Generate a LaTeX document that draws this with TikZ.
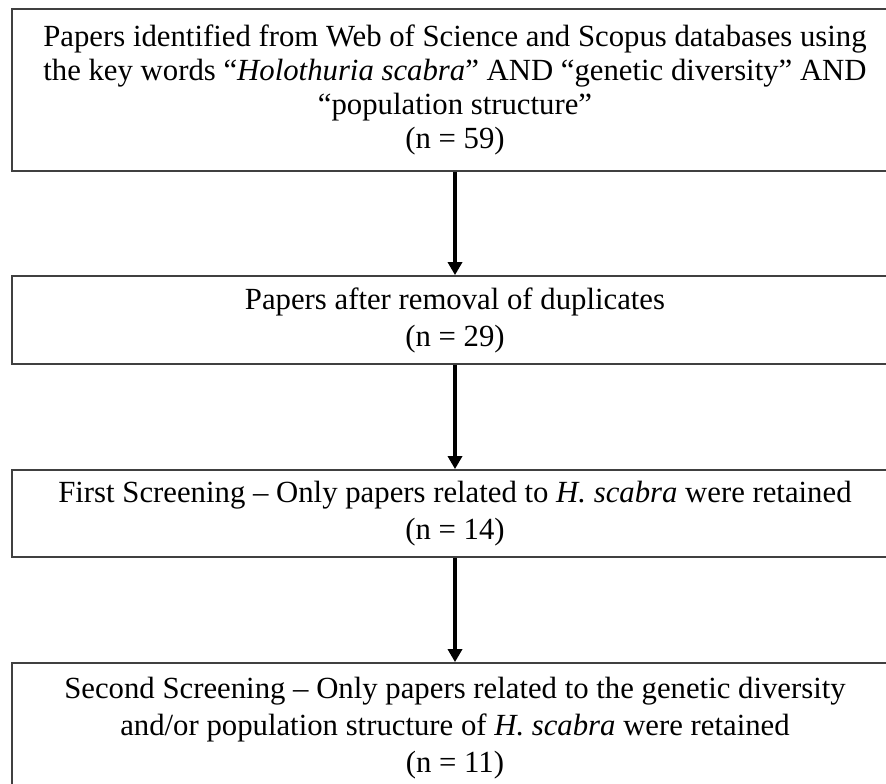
\documentclass[tikz,border=0pt]{standalone}
\usepackage{fontspec}
\setmainfont{Liberation Serif}
\usepackage{tikz}
\usetikzlibrary{arrows.meta,positioning}

\begin{document}
\begin{tikzpicture}[x=0.4pt, y=-0.4pt,
    stepbox/.style={draw=black!75, line width=0.7pt, minimum width=354.4pt,
        align=center, inner sep=0pt, font=\fontsize{12.3}{14.8}\selectfont},
    flow/.style={-{Triangle[width=5.6pt,length=5.2pt]}, line width=1.5pt}]
    \useasboundingbox (0,0) rectangle (886,784);
    \clip (0,0) rectangle (886,784);

    % Boxes
    \node[stepbox, minimum height=64.8pt, font=\fontsize{12.3}{13.6}\selectfont] (found) at (455,90)
        {Papers identified from Web of Science and Scopus databases using\\
         the key words “\textit{Holothuria scabra}” AND “genetic diversity” AND\\
         “population structure”\\
         (n = 59)};
    \node[stepbox, minimum height=35.2pt] (dedup) at (455,320)
        {Papers after removal of duplicates\\
         (n = 29)};
    \node[stepbox, minimum height=34.8pt] (first) at (455,513.5)
        {First Screening -- Only papers related to \textit{H. scabra} were retained\\
         (n = 14)};
    \node[stepbox, minimum height=52.4pt] (second) at (455,728.5)
        {Second Screening -- Only papers related to the genetic diversity\\
         and/or population structure of \textit{H. scabra} were retained\\
         (n = 11)};

    % Arrows
    \draw[flow] (found) -- (dedup);
    \draw[flow] (dedup) -- (first);
    \draw[flow] (first) -- (second);
\end{tikzpicture}
\end{document}
